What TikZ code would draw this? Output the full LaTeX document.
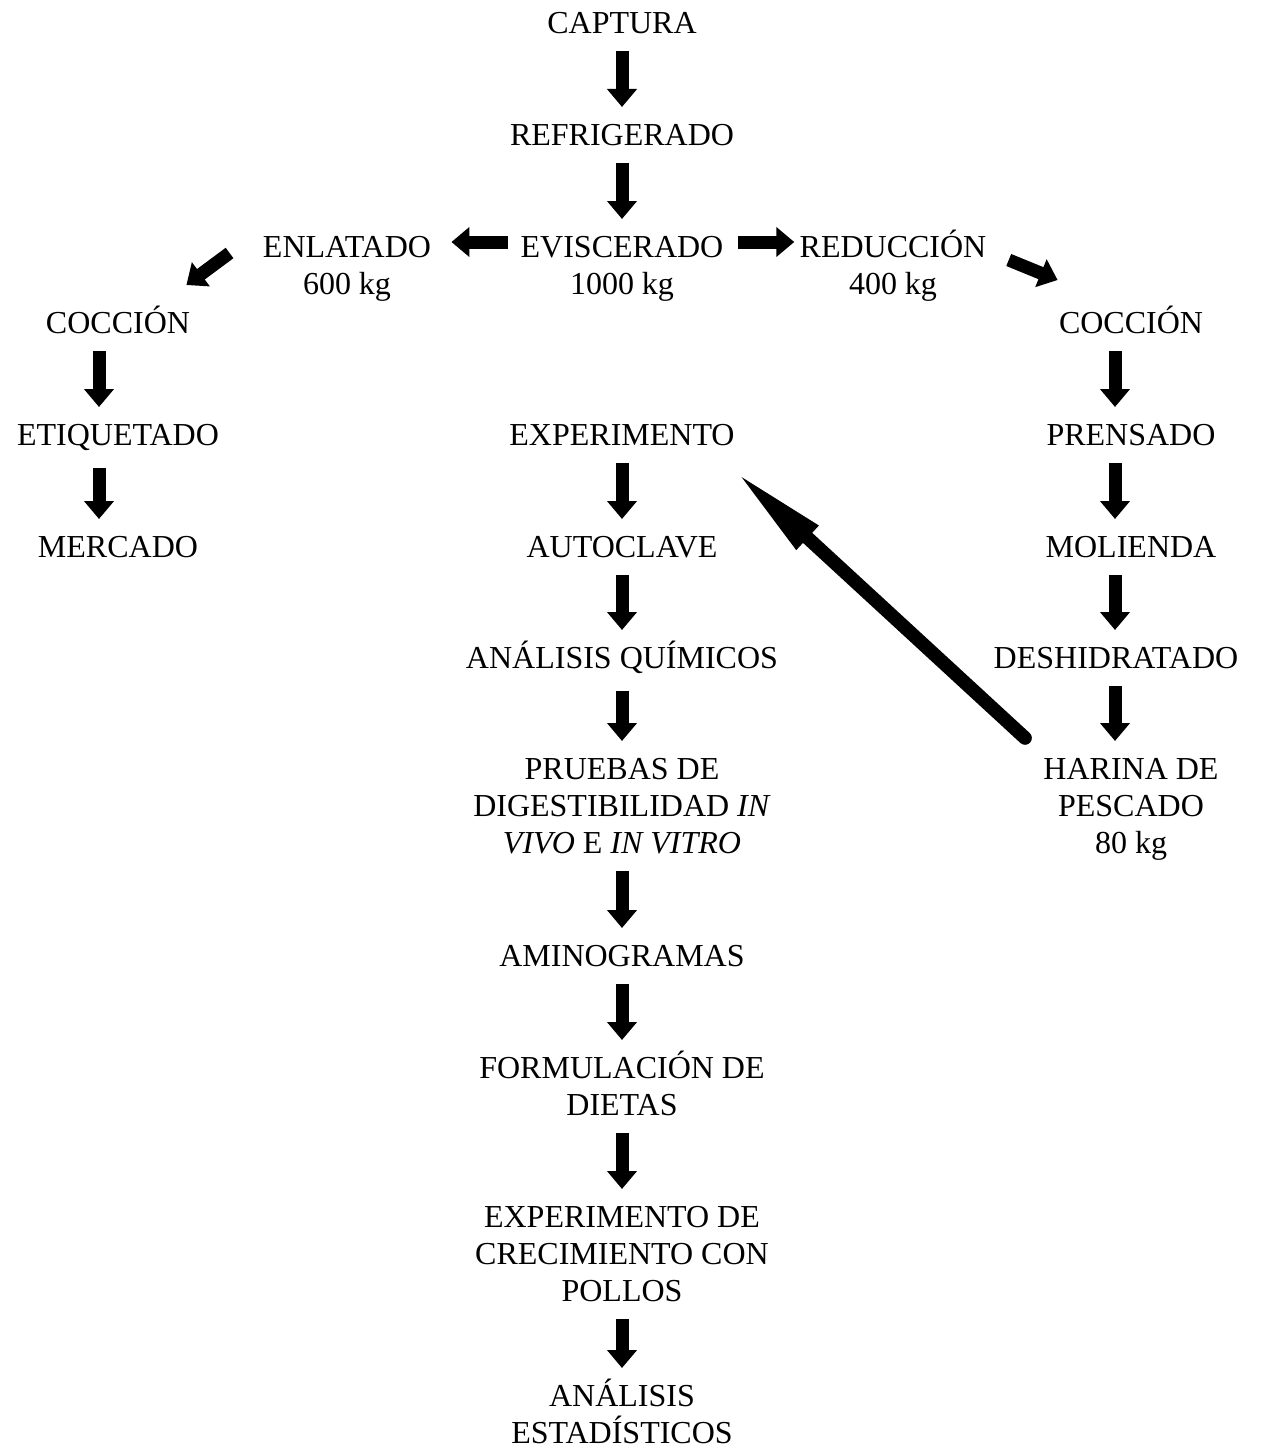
\documentclass[tikz,border=0pt]{standalone}
\usepackage{fontspec}
\setmainfont{Liberation Serif}
\usetikzlibrary{arrows.meta}
\newcommand\lnst{\rule{0pt}{16pt}}
\begin{document}
\begin{tikzpicture}[x=0.5pt,y=-0.5pt,
  lbl/.style={inner sep=0pt, anchor=north, align=center, font=\fontsize{16}{18.5}\selectfont},
  arr/.style={line width=6.5pt, -{Triangle[length=9pt,width=14.5pt]}, shorten <=8.5pt, shorten >=3pt},
  bigarr/.style={line width=6.8pt, line cap=round, -{Triangle[length=50pt,width=14.5pt]}},
]
\useasboundingbox (0,0) rectangle (1263,1450);
% centre column
\node[lbl] (cap) at (622,1) {\lnst CAPTURA};
\node[lbl] (ref) at (622,113) {\lnst REFRIGERADO};
\node[lbl] (ev) at (622,225) {\lnst EVISCERADO\\1000 kg};
\node[lbl] (en) at (347,225) {\lnst ENLATADO\\600 kg};
\node[lbl] (red) at (893,225) {\lnst REDUCCIÓN\\400 kg};
\node[lbl] (exp) at (622,413) {\lnst EXPERIMENTO};
\node[lbl] (auto) at (622,525) {\lnst AUTOCLAVE};
\node[lbl] (anq) at (622,636) {\lnst ANÁLISIS QUÍMICOS};
\node[lbl] (prue) at (622,747) {\lnst PRUEBAS DE\\DIGESTIBILIDAD \textit{IN}\\\textit{VIVO} E \textit{IN VITRO}};
\node[lbl] (amino) at (622,934) {\lnst AMINOGRAMAS};
\node[lbl] (form) at (622,1046) {\lnst FORMULACIÓN DE\\DIETAS};
\node[lbl] (expc) at (622,1195) {\lnst EXPERIMENTO DE\\CRECIMIENTO CON\\POLLOS};
\node[lbl] (ane) at (622,1374) {\lnst ANÁLISIS\\ESTADÍSTICOS};
% left column
\node[lbl] (cocL) at (118,301) {\lnst COCCIÓN};
\node[lbl] (etiq) at (118,413) {\lnst ETIQUETADO};
\node[lbl] (merc) at (118,525) {\lnst MERCADO};
% right column
\node[lbl] (cocR) at (1131,301) {\lnst COCCIÓN};
\node[lbl] (pren) at (1131,413) {\lnst PRENSADO};
\node[lbl] (mol) at (1131,525) {\lnst MOLIENDA};
\node[lbl] (desh) at (1116,636) {\lnst DESHIDRATADO};
\node[lbl] (har) at (1131,747) {\lnst HARINA DE\\PESCADO\\80 kg};

% centre arrows
\draw[arr] (cap.south) -- (ref.north);
\draw[arr] (ref.south) -- (ev.north);
\draw[arr] (exp.south) -- (auto.north);
\draw[arr] (auto.south) -- (anq.north);
\draw[arr] (anq.south) -- (prue.north);
\draw[arr] (prue.south) -- (amino.north);
\draw[arr] (amino.south) -- (form.north);
\draw[arr] (form.south) -- (expc.north);
\draw[arr] (expc.south) -- (ane.north);
% branches
\draw[arr, shorten <=6pt, shorten >=10pt] ([yshift=-8.5pt]ev.north west) -- ([yshift=-8.5pt]en.north east);
\draw[arr, shorten <=7pt, shorten >=2.5pt] ([yshift=-8.5pt]ev.north east) -- ([yshift=-8.5pt]red.north west);
\draw[arr, shorten <=0pt, shorten >=0pt] ([shift={(-16.5pt,-14pt)}]en.north west) -- ([shift={(-2pt,8pt)}]cocL.north east);
\draw[arr, shorten <=0pt, shorten >=0pt] ([shift={(11pt,-17.5pt)}]red.north east) -- ([shift={(-0.5pt,10.5pt)}]cocR.north west);
% left arrows
\draw[arr] ([xshift=-9.5pt]cocL.south) -- ([xshift=-9.5pt]etiq.north);
\draw[arr] ([xshift=-9.5pt]etiq.south) -- ([xshift=-9.5pt]merc.north);
% right arrows
\draw[arr] ([xshift=-8pt]cocR.south) -- ([xshift=-8pt]pren.north);
\draw[arr] ([xshift=-8pt]pren.south) -- ([xshift=-8pt]mol.north);
\draw[arr] ([xshift=-8pt]mol.south) -- ([xshift=-0.5pt]desh.north);
\draw[arr] ([xshift=-0.5pt]desh.south) -- ([xshift=-8pt]har.north);
% feedback arrow
\draw[bigarr] ([shift={(-9pt,4.5pt)}]har.north west) -- ([shift={(-0.5pt,-12pt)}]exp.south east);
\end{tikzpicture}
\end{document}
